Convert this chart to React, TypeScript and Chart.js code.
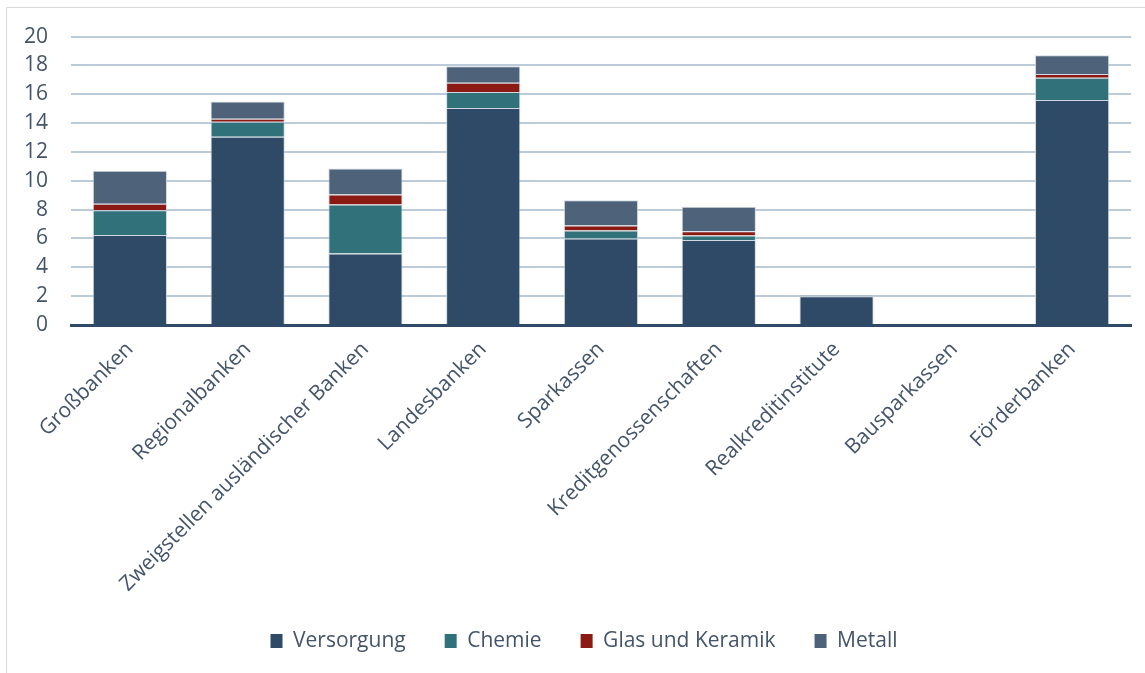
import React, { useEffect, useRef } from "react";
import { Chart, registerables } from "chart.js";

Chart.register(...registerables);

const categories = [
  "Großbanken",
  "Regionalbanken",
  "Zweigstellen ausländischer Banken",
  "Landesbanken",
  "Sparkassen",
  "Kreditgenossenschaften",
  "Realkreditinstitute",
  "Bausparkassen",
  "Förderbanken",
];

const versorgung = [6.25, 13.05, 4.95, 15.05, 6.0, 5.9, 2.0, 0, 15.6];
const chemie = [1.7, 1.05, 3.4, 1.1, 0.55, 0.3, 0, 0, 1.55];
const glasUndKeramik = [0.45, 0.2, 0.7, 0.65, 0.35, 0.3, 0, 0, 0.25];
const metall = [2.3, 1.2, 1.8, 1.15, 1.75, 1.7, 0.05, 0, 1.3];

const seriesNames = ["Versorgung", "Chemie", "Glas und Keramik", "Metall"];
const seriesColors = ["#2F4A66", "#31717A", "#8B1A14", "#4E6379"];

const yTickMin = 0;
const yTickMax = 20;
const yTickStep = 2;

const textColor = "#44546A";
const fontFamily = "'Open Sans', sans-serif";

const legendShift = {
  id: "legendShift",
  afterLayout(chart: any) {
    if (chart.legend) {
      chart.legend.left += 15;
      chart.legend.right += 15;
    }
  },
};

export default function App() {
  const canvasRef = useRef<HTMLCanvasElement | null>(null);

  useEffect(() => {
    if (!canvasRef.current) return;
    const values = [versorgung, chemie, glasUndKeramik, metall];
    const chart = new Chart(canvasRef.current, {
      type: "bar",
      data: {
        labels: categories,
        datasets: values.map((v, i) => ({
          label: seriesNames[i],
          data: v,
          backgroundColor: seriesColors[i],
          borderColor: "rgba(200,210,222,0.85)",
          borderWidth: 1,
          categoryPercentage: 1,
          barPercentage: 0.63,
        })),
      },
      plugins: [legendShift],
      options: {
        animation: false,
        responsive: true,
        maintainAspectRatio: false,
        layout: { padding: { top: 0, right: 45, bottom: 18.6, left: 0 } },
        plugins: {
          tooltip: { enabled: false },
          legend: {
            position: "bottom",
            maxHeight: 64,
            labels: {
              color: textColor,
              font: { family: fontFamily, size: 21 },
              boxWidth: 12,
              boxHeight: 14,
              padding: 39,
              generateLabels: (c: any) =>
                c.data.datasets.map((d: any, i: number) => ({
                  text: d.label,
                  fillStyle: d.backgroundColor,
                  strokeStyle: d.backgroundColor,
                  lineWidth: 0,
                  hidden: false,
                  datasetIndex: i,
                  fontColor: textColor,
                })),
            },
          },
        },
        scales: {
          x: {
            stacked: true,
            grid: { display: false },
            border: { display: true, color: "#2F4A66", width: 3 },
            ticks: {
              color: textColor,
              font: { family: fontFamily, size: 21 },
              minRotation: 45,
              maxRotation: 45,
              autoSkip: false,
              padding: 4,
            },
            afterFit: (s: any) => {
              s.height = 266.4;
            },
          },
          y: {
            stacked: true,
            min: yTickMin,
            max: yTickMax,
            border: { display: false },
            grid: {
              color: (ctx: any) =>
                ctx.tick && ctx.tick.value === 0 ? "rgba(0,0,0,0)" : "#BCCBD9",
              lineWidth: 2,
              drawTicks: false,
            },
            ticks: {
              stepSize: yTickStep,
              autoSkip: false,
              color: textColor,
              font: { family: fontFamily, size: 21 },
              padding: 23,
            },
            afterFit: (s: any) => {
              s.width = 64;
            },
          },
        },
      },
    });
    return () => chart.destroy();
  }, []);

  return (
    <div
      style={{
        position: "absolute",
        left: 0,
        top: 0,
        width: 1145,
        height: 673,
        background: "#fff",
        overflow: "hidden",
      }}
    >
      <div
        style={{
          position: "absolute",
          left: 6,
          top: 7,
          width: 1145,
          height: 673,
          border: "1px solid #D9D9D9",
          boxSizing: "border-box",
        }}
      >
        <div style={{ position: "absolute", left: 0, top: -7, width: 1169, height: 673 }}>
          <canvas ref={canvasRef} />
        </div>
      </div>
    </div>
  );
}
